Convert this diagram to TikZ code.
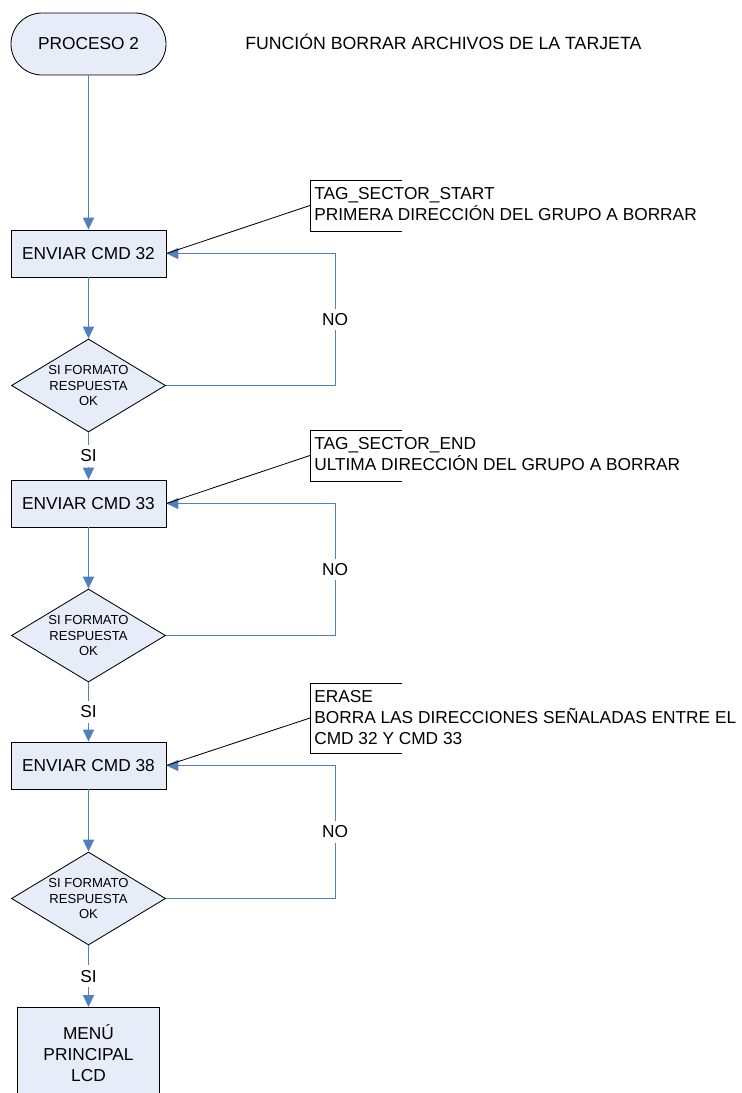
\documentclass[tikz,border=0pt]{standalone}
\usepackage{fontspec}
\setmainfont{Liberation Sans}
\usetikzlibrary{shapes.geometric,arrows.meta}
\definecolor{relleno}{RGB}{230,236,248}
\definecolor{azul}{RGB}{79,129,189}
\begin{document}
\begin{tikzpicture}[x=0.025cm, y=-0.025cm,
    every node/.style={font=\fontsize{12.3}{14.9}\selectfont, text=black},
    caja/.style={draw, line width=0.6pt, fill=relleno, minimum width=3.875cm, minimum height=1.175cm},
    decision/.style={diamond, draw, line width=0.6pt, fill=relleno, inner sep=0pt, aspect=1.66,
      minimum width=3.85cm, minimum height=2.325cm, align=center, font=\fontsize{9.3}{11}\selectfont},
    flecha/.style={azul, line width=0.7pt, -{Triangle[length=3mm,width=2.8mm]}},
    etiqueta/.style={fill=white, text=black},
    nota/.style={anchor=north west, inner sep=0pt, align=left},
    corchete/.style={line width=0.6pt}]
    \path[use as bounding box, clip] (0,0) rectangle (742,1093);

    \node[caja, rounded corners=0.775cm, minimum height=1.55cm] (inicio) at (88.5,44) {PROCESO 2};
    \node[anchor=base west, inner sep=0pt, font=\fontsize{12.6}{15}\selectfont] (titulo) at (245,49) {FUNCIÓN BORRAR ARCHIVOS DE LA TARJETA};

    \node[caja] (cmd32) at (88.5,253.5) {ENVIAR CMD 32};
    \node[decision] (ok1) at (88.5,385.5) {SI FORMATO\\RESPUESTA\\OK};
    \node[caja] (cmd33) at (88.5,503.5) {ENVIAR CMD 33};
    \node[decision] (ok2) at (88.5,635.5) {SI FORMATO\\RESPUESTA\\OK};
    \node[caja] (cmd38) at (88.5,765.5) {ENVIAR CMD 38};
    \node[decision] (ok3) at (88.5,898.5) {SI FORMATO\\RESPUESTA\\OK};
    \node[caja, anchor=north, minimum width=3.55cm, minimum height=2.3cm, align=center] (menu) at (88.5,1007) {MENÚ\\PRINCIPAL\\LCD};

    \draw[flecha] (inicio) -- (cmd32);
    \draw[flecha] (cmd32) -- (ok1);
    \draw[flecha] (ok1) -- node[etiqueta] {SI} (cmd33);
    \draw[flecha] (cmd33) -- (ok2);
    \draw[flecha] (ok2) -- node[etiqueta] {SI} (cmd38);
    \draw[flecha] (cmd38) -- (ok3);
    \draw[flecha] (ok3) -- node[etiqueta] {SI} (menu);

    \coordinate (r1) at (335,253.5);
    \coordinate (r2) at (335,503.5);
    \coordinate (r3) at (335,765.5);
    \draw[flecha] (ok1.east) -| node[pos=0.75, etiqueta] {NO} (r1) -- (cmd32.east);
    \draw[flecha] (ok2.east) -| node[pos=0.75, etiqueta] {NO} (r2) -- (cmd33.east);
    \draw[flecha] (ok3.east) -| node[pos=0.75, etiqueta] {NO} (r3) -- (cmd38.east);

    \node[nota] (nota1) at (314,187) {TAG\_SECTOR\_START\\PRIMERA DIRECCIÓN DEL GRUPO A BORRAR};
    \draw[corchete] (402,180) -| (310,231) -- (402,231);
    \coordinate (n1) at (310,205.5);
    \draw[corchete] (n1) -- (cmd32.east);

    \node[nota] (nota2) at (314,437) {TAG\_SECTOR\_END\\ULTIMA DIRECCIÓN DEL GRUPO A BORRAR};
    \draw[corchete] (402,430) -| (310,481) -- (402,481);
    \coordinate (n2) at (310,455.5);
    \draw[corchete] (n2) -- (cmd33.east);

    \node[nota] (nota3) at (314,690) {ERASE\\BORRA LAS DIRECCIONES SEÑALADAS ENTRE EL\\CMD 32 Y CMD 33};
    \draw[corchete] (402,683) -| (310,753) -- (402,753);
    \coordinate (n3) at (310,718);
    \draw[corchete] (n3) -- (cmd38.east);
\end{tikzpicture}
\end{document}
